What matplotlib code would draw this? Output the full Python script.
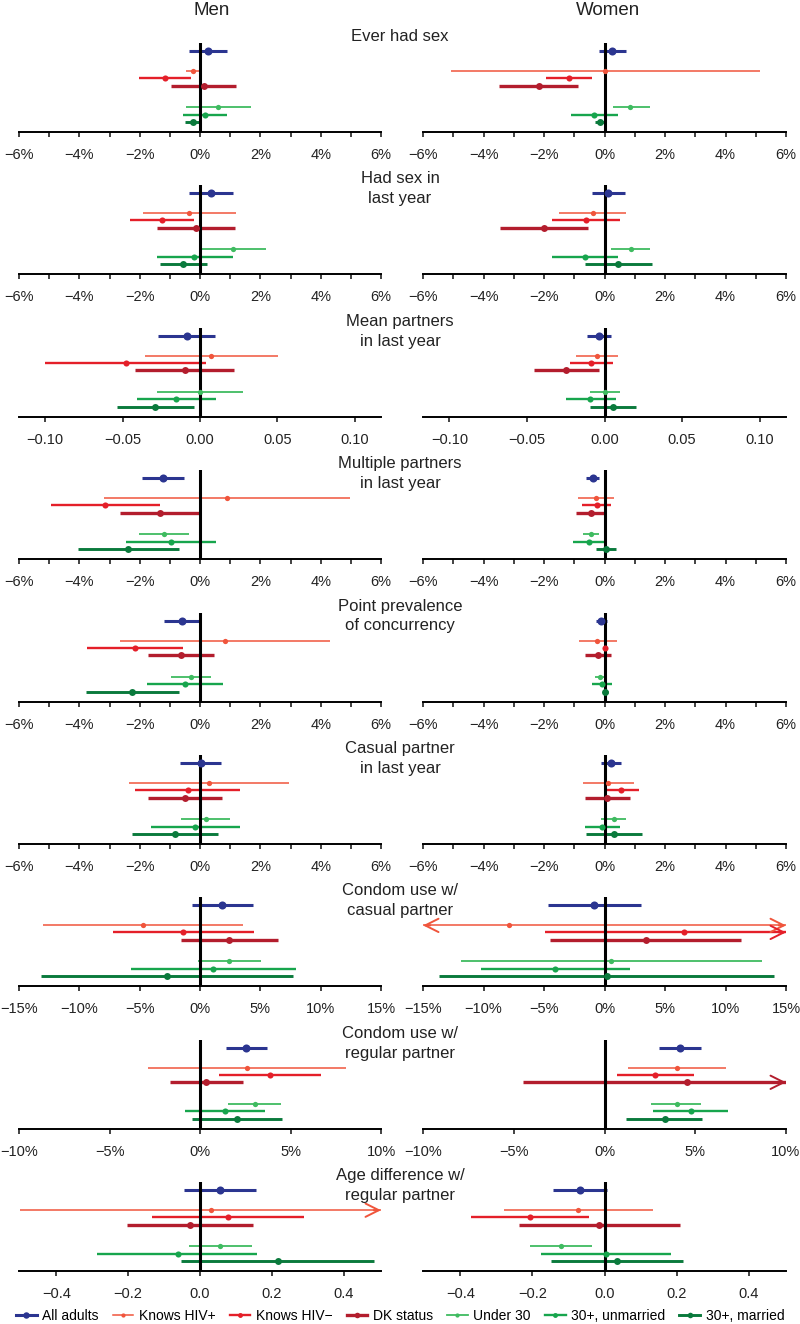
import numpy as np
import matplotlib.pyplot as plt
from matplotlib.lines import Line2D
from matplotlib.ticker import FixedLocator, FuncFormatter

plt.rcParams['font.family'] = ['Liberation Sans', 'DejaVu Sans']

groups = ['All adults', 'Knows HIV+', 'Knows HIV\u2212', 'DK status',
          'Under 30', '30+, unmarried', '30+, married']
colors = ['#2b3590', '#f0553c', '#e41f29', '#b31d2d', '#3fbb60', '#17a54d', '#0a7a3c']

outcomes = ['Ever had sex', 'Had sex in\nlast year', 'Mean partners\nin last year',
            'Multiple partners\nin last year', 'Point prevalence\nof concurrency',
            'Casual partner\nin last year', 'Condom use w/\ncasual partner',
            'Condom use w/\nregular partner', 'Age difference w/\nregular partner']

# rows: (low, estimate, high) for each group, order as in `groups`
# percentage points, except mean partners and age difference
men_ever = [(-0.38, 0.27, 0.90), (-0.46, -0.23, 0.02), (-2.02, -1.16, -0.29), (-0.95, 0.12, 1.20),
            (-0.48, 0.61, 1.69), (-0.57, 0.15, 0.90), (-0.49, -0.24, 0.02)]
women_ever = [(-0.18, 0.26, 0.72), (-5.09, 0.02, 5.15), (-1.93, -1.17, -0.40), (-3.49, -2.16, -0.86),
              (0.28, 0.85, 1.49), (-1.11, -0.35, 0.44), (-0.33, -0.15, 0.03)]

men_lastyr = [(-0.36, 0.36, 1.09), (-1.89, -0.38, 1.18), (-2.31, -1.26, -0.21), (-1.44, -0.14, 1.15),
              (0.0, 1.09, 2.20), (-1.44, -0.20, 1.09), (-1.33, -0.56, 0.23)]
women_lastyr = [(-0.40, 0.12, 0.68), (-1.49, -0.39, 0.72), (-1.72, -0.61, 0.52), (-3.44, -2.00, -0.55),
                (0.23, 0.87, 1.52), (-1.72, -0.64, 0.44), (-0.63, 0.46, 1.58)]

men_mean = [(-0.0271, -0.0087, 0.0095), (-0.0353, 0.0074, 0.0504), (-0.100, -0.0481, 0.0039),
            (-0.0420, -0.0100, 0.0223), (-0.0277, 0.0, 0.0279), (-0.0409, -0.0154, 0.0104),
            (-0.0539, -0.0288, -0.0039)]
women_mean = [(-0.0114, -0.0037, 0.0041), (-0.0186, -0.0050, 0.0086), (-0.0220, -0.0086, 0.0052),
              (-0.0457, -0.0246, -0.0035), (-0.0091, 0.0002, 0.0097), (-0.0250, -0.0093, 0.0073),
              (-0.0093, 0.0056, 0.0205)]

men_multi = [(-1.92, -1.23, -0.53), (-3.19, 0.88, 4.97), (-4.94, -3.14, -1.33), (-2.66, -1.33, 0.0),
             (-2.02, -1.20, -0.38), (-2.45, -0.96, 0.53), (-4.06, -2.39, -0.71)]
women_multi = [(-0.62, -0.39, -0.17), (-0.89, -0.29, 0.32), (-0.74, -0.26, 0.20), (-0.95, -0.46, 0.01),
               (-0.70, -0.44, -0.19), (-1.04, -0.50, 0.04), (-0.29, 0.04, 0.39)]

men_conc = [(-1.18, -0.60, 0.0), (-2.65, 0.84, 4.32), (-3.75, -2.15, -0.56), (-1.72, -0.64, 0.45),
            (-0.95, -0.30, 0.35), (-1.77, -0.50, 0.77), (-3.79, -2.25, -0.71)]
women_conc = [(-0.28, -0.10, 0.08), (-0.84, -0.24, 0.41), (-0.03, 0.01, 0.06), (-0.64, -0.22, 0.21),
              (-0.30, -0.14, 0.02), (-0.40, -0.08, 0.26), (-0.06, 0.02, 0.10)]

men_casual = [(-0.65, 0.02, 0.71), (-2.34, 0.31, 2.96), (-2.14, -0.40, 1.34), (-1.71, -0.49, 0.74),
              (-0.64, 0.21, 1.01), (-1.61, -0.15, 1.31), (-2.24, -0.83, 0.59)]
women_casual = [(-0.12, 0.21, 0.55), (-0.72, 0.13, 0.99), (-0.01, 0.54, 1.14), (-0.66, 0.09, 0.84),
                (-0.10, 0.31, 0.72), (-0.64, -0.09, 0.51), (-0.61, 0.32, 1.25)]

men_condcas = [(-0.69, 1.85, 4.42), (-13.0, -4.72, 3.56), (-7.21, -1.41, 4.45), (-1.60, 2.43, 6.46),
               (-0.19, 2.43, 5.08), (-5.75, 1.10, 7.96), (-13.2, -2.76, 7.68)]
women_condcas = [(-4.69, -0.83, 2.98), (-np.inf, -7.86, np.inf), (-4.91, 6.56, np.inf), (-4.49, 3.42, 11.28),
                 (-11.9, 0.52, 12.99), (-10.23, -4.11, 2.07), (-13.7, 0.19, 14.03)]

men_condreg = [(1.42, 2.56, 3.71), (-2.88, 2.58, 8.06), (1.07, 3.86, 6.66), (-1.66, 0.35, 2.36),
               (1.55, 3.03, 4.50), (-0.81, 1.37, 3.58), (-0.46, 2.03, 4.54)]
women_condreg = [(2.98, 4.15, 5.33), (1.31, 3.97, 6.67), (0.70, 2.79, 4.91), (-4.50, 4.56, np.inf),
                 (2.57, 3.97, 5.33), (2.67, 4.74, 6.82), (1.21, 3.33, 5.39)]

men_agediff = [(-0.045, 0.057, 0.156), (-0.50, 0.031, np.inf), (-0.134, 0.078, 0.290), (-0.203, -0.028, 0.147),
               (-0.031, 0.057, 0.144), (-0.288, -0.060, 0.158), (-0.053, 0.216, 0.485)]
women_agediff = [(-0.144, -0.067, 0.008), (-0.279, -0.073, 0.134), (-0.372, -0.207, -0.044),
                 (-0.238, -0.015, 0.209), (-0.208, -0.122, -0.035), (-0.175, 0.005, 0.186),
                 (-0.148, 0.035, 0.219)]

men = [men_ever, men_lastyr, men_mean, men_multi, men_conc, men_casual, men_condcas, men_condreg, men_agediff]
women = [women_ever, women_lastyr, women_mean, women_multi, women_conc, women_casual, women_condcas,
         women_condreg, women_agediff]

# x axis style for each row
axes_kind = ['pct6', 'pct6', 'mean', 'pct6', 'pct6', 'pct6', 'pct15', 'pct10', 'age']

line_w = [2.2, 1.1, 1.7, 2.4, 1.3, 1.7, 2.1]
mark_s = [5.8, 3.8, 4.4, 5.0, 3.8, 4.4, 5.0]
ypos = [81, 61, 54, 46.5, 25, 17.5, 10]


def minus(s):
    return s.replace('-', '\u2212')


def setup_x(ax, kind):
    if kind == 'pct6':
        lim, ticks = 6, np.arange(-6, 7, 1)
        fmt = lambda v, p: minus('%d%%' % round(v)) if round(v) % 2 == 0 else ''
    elif kind == 'pct15':
        lim, ticks = 15, np.arange(-15, 16, 5)
        fmt = lambda v, p: minus('%d%%' % round(v))
    elif kind == 'pct10':
        lim, ticks = 10, np.arange(-10, 11, 5)
        fmt = lambda v, p: minus('%d%%' % round(v))
    elif kind == 'mean':
        lim, ticks = 0.117, np.array([-0.1, -0.05, 0, 0.05, 0.1])
        fmt = lambda v, p: minus('%.2f' % v).replace('\u22120.00', '0.00')
    else:
        lim, ticks = 0.504, np.array([-0.4, -0.2, 0, 0.2, 0.4])
        fmt = lambda v, p: minus('%.1f' % v).replace('\u22120.0', '0.0')
    ax.set_xlim(-lim, lim)
    ax.xaxis.set_major_locator(FixedLocator(ticks))
    ax.xaxis.set_major_formatter(FuncFormatter(fmt))
    return lim


def draw(ax, rows, kind):
    lim = setup_x(ax, kind)
    ax.set_ylim(0, 89)
    for s in ['top', 'left', 'right']:
        ax.spines[s].set_visible(False)
    ax.spines['bottom'].set_linewidth(1.4)
    ax.set_yticks([])
    ax.tick_params(axis='x', length=3.5, width=1.2, pad=8, labelsize=10.5, colors='#222222')
    ax.patch.set_alpha(0)
    ax.axvline(0, color='black', lw=2.2, zorder=3)
    for i, (lo, est, hi) in enumerate(rows):
        y, c = ypos[i], colors[i]
        a, b = max(lo, -lim), min(hi, lim)
        ax.plot([a, b], [y, y], color=c, lw=line_w[i], solid_capstyle='butt', zorder=2)
        ax.plot(est, y, 'o', color=c, ms=mark_s[i], mec='none', zorder=4)
        astyle = '->,head_length=0.6,head_width=0.3'
        if hi > lim:
            ax.annotate('', xy=(lim, y), xytext=(lim - 0.04 * lim, y), annotation_clip=False,
                        arrowprops=dict(arrowstyle=astyle, color=c, lw=1.4, shrinkA=0, shrinkB=0,
                                        mutation_scale=16))
        if lo < -lim:
            ax.annotate('', xy=(-lim, y), xytext=(-lim + 0.04 * lim, y), annotation_clip=False,
                        arrowprops=dict(arrowstyle=astyle, color=c, lw=1.4, shrinkA=0, shrinkB=0,
                                        mutation_scale=16))


W, H = 800, 1324
fig = plt.figure(figsize=(W / 100, H / 100), dpi=100)

fig.text(212 / W, 1 - 15 / H, 'Men', ha='center', va='baseline', fontsize=13.5, color='#222222')
fig.text(608 / W, 1 - 15 / H, 'Women', ha='center', va='baseline', fontsize=13.5, color='#222222')

for r in range(9):
    base = 132 + 142.4 * r
    axl = fig.add_axes([19 / W, 1 - base / H, 362 / W, 89 / H])
    axr = fig.add_axes([423 / W, 1 - base / H, 363 / W, 89 / H])
    draw(axl, men[r], axes_kind[r])
    draw(axr, women[r], axes_kind[r])
    fig.text(0.5, 1 - (base - 103) / H, outcomes[r], ha='center', va='top', fontsize=12,
             linespacing=1.4, color='#222222')

handles = [Line2D([], [], color=colors[i], lw=line_w[i], marker='o', ms=mark_s[i] * 0.8, mec='none')
           for i in range(len(groups))]
fig.legend(handles, groups, loc='center', bbox_to_anchor=(0.5, 1 - 1316 / H), ncol=7, frameon=False,
           fontsize=10, handlelength=1.5, handletextpad=0.4, columnspacing=1.0,
           borderaxespad=0, borderpad=0)

fig.savefig('out.png', dpi=100)
